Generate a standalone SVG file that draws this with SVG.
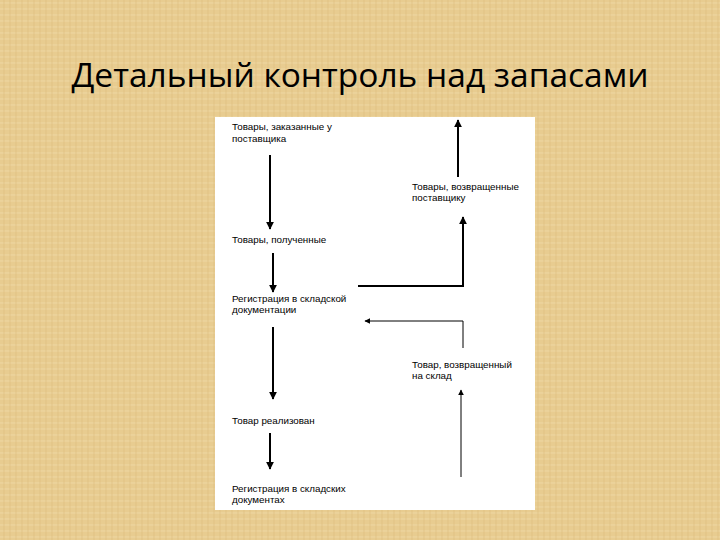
<svg xmlns="http://www.w3.org/2000/svg" width="720" height="540" viewBox="0 0 720 540">
<defs>
<pattern id="tex" width="12" height="12" patternUnits="userSpaceOnUse">
<rect width="12" height="12" fill="#e8cc90"/>
<path d="M0 3H12M0 9H12" stroke="#f1dcaa" stroke-width="1" opacity="0.7"/>
<path d="M4 0V12M10 0V12" stroke="#d9b775" stroke-width="1" opacity="0.5"/>
</pattern>
<marker id="ah" viewBox="0 0 10 10" refX="9" refY="5" markerWidth="4" markerHeight="4" orient="auto" markerUnits="strokeWidth">
<path d="M0 0L10 5L0 10z" fill="#000"/>
</marker>
<marker id="ahs" viewBox="0 0 10 10" refX="9" refY="5" markerWidth="6" markerHeight="6" orient="auto" markerUnits="strokeWidth">
<path d="M0 0L10 5L0 10z" fill="#000"/>
</marker>
<style>
.t{font-family:"Liberation Sans",Arial,sans-serif;font-size:9.8px;fill:#000}
.thick{stroke:#000;stroke-width:2;fill:none;marker-end:url(#ah)}
.thin{stroke:#000;stroke-width:1;fill:none;marker-end:url(#ahs)}
</style>
</defs>
<rect width="720" height="540" fill="url(#tex)"/>
<text x="360" y="87" text-anchor="middle" font-family="'Open Sans','Noto Sans',sans-serif" font-size="33.5" fill="#000">Детальный контроль над запасами</text>
<rect x="215" y="117" width="320" height="393" fill="#fff"/>
<g id="n1"><text class="t" x="232" y="130">Товары, заказанные у</text><text class="t" x="232" y="142">поставщика</text></g>
<g id="n2"><text class="t" x="232" y="243">Товары, полученные</text></g>
<g id="n3"><text class="t" x="232" y="302">Регистрация в складской</text><text class="t" x="232" y="313">документации</text></g>
<g id="n4"><text class="t" x="232" y="424">Товар реализован</text></g>
<g id="n5"><text class="t" x="232" y="492">Регистрация в складских</text><text class="t" x="232" y="503">документах</text></g>
<g id="n6"><text class="t" x="412" y="190">Товары, возвращенные</text><text class="t" x="412" y="201">поставщику</text></g>
<g id="n7"><text class="t" x="412" y="368">Товар, возвращенный</text><text class="t" x="412" y="379">на склад</text></g>
<g id="connectors">
<path class="thick" d="M270 155V229"/>
<path class="thick" d="M273 253V292"/>
<path class="thick" d="M273 327V399"/>
<path class="thick" d="M270 433V469"/>
<path class="thick" d="M458 177V120"/>
<path class="thick" d="M358 286H463V217"/>
<path class="thin" d="M463 348V321H365"/>
<path class="thin" d="M461 477V390"/>
</g>
</svg>
